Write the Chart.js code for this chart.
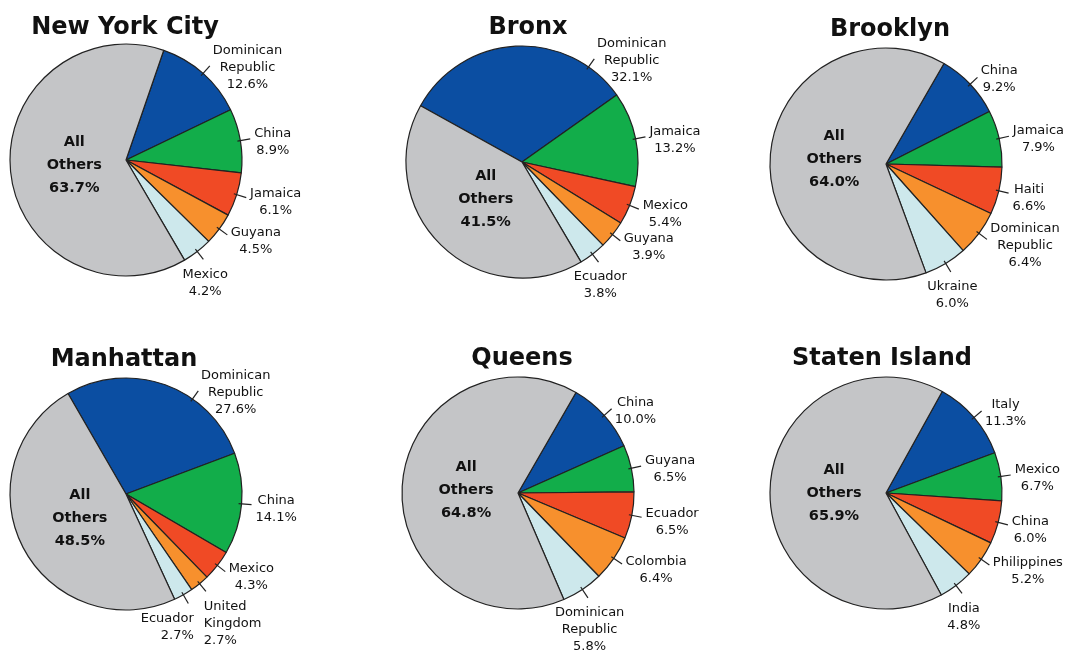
<!DOCTYPE html>
<html>
<head>
<meta charset="utf-8">
<title>Foreign-born population by borough</title>
<script src="https://cdn.jsdelivr.net/npm/chart.js@4.4.1/dist/chart.umd.min.js"></script>
<style>
    body { margin: 0; background: #fff; }
    #board { position: relative; width: 1079px; height: 655px; overflow: hidden; }
    #board canvas { position: absolute; }
</style>
</head>
<body>
<div id="board"></div>
<script>
const boroughs = ['New York City', 'Bronx', 'Brooklyn', 'Manhattan', 'Queens', 'Staten Island'];

const nycCountries = ['Dominican Republic', 'China', 'Jamaica', 'Guyana', 'Mexico', 'All Others'];
const nycShares = [12.6, 8.9, 6.1, 4.5, 4.2, 63.7];

const bronxCountries = ['Dominican Republic', 'Jamaica', 'Mexico', 'Guyana', 'Ecuador', 'All Others'];
const bronxShares = [32.1, 13.2, 5.4, 3.9, 3.8, 41.5];

const brooklynCountries = ['China', 'Jamaica', 'Haiti', 'Dominican Republic', 'Ukraine', 'All Others'];
const brooklynShares = [9.2, 7.9, 6.6, 6.4, 6.0, 64.0];

const manhattanCountries = ['Dominican Republic', 'China', 'Mexico', 'United Kingdom', 'Ecuador', 'All Others'];
const manhattanShares = [27.6, 14.1, 4.3, 2.7, 2.7, 48.5];

const queensCountries = ['China', 'Guyana', 'Ecuador', 'Colombia', 'Dominican Republic', 'All Others'];
const queensShares = [10.0, 6.5, 6.5, 6.4, 5.8, 64.8];

const statenCountries = ['Italy', 'Mexico', 'China', 'Philippines', 'India', 'All Others'];
const statenShares = [11.3, 6.7, 6.0, 5.2, 4.8, 65.9];

const sliceColors = ['#0b4ea2', '#12ad4a', '#f04a25', '#f7902d', '#cde8ec', '#c4c5c7'];

// layout: pie centre on the page, start angle, title centre/baseline
const pieCentres = [[126, 160], [522, 162], [886, 164], [126, 494], [518, 493], [886, 493]];
const startAngles = [19, -61, 30, -30, 30, 29];
const titleSpots = [[125, 34], [528, 34], [890, 36], [124, 366], [522, 365], [882, 365]];

const W = 400, H = 330, R = 116;

const sliceLabels = {
    id: 'sliceLabels',
    afterDatasetsDraw(chart, args, opts) {
        const ctx = chart.ctx;
        const arcs = chart.getDatasetMeta(0).data;
        const ds = chart.data.datasets[0];
        const names = chart.data.labels;
        const n = arcs.length;
        const deg = Math.PI / 180;

        ctx.save();
        ctx.fillStyle = '#111';
        ctx.font = 'bold 24px "DejaVu Sans"';
        ctx.textAlign = 'center';
        ctx.textBaseline = 'alphabetic';
        ctx.fillText(opts.title, opts.titleX, opts.titleY);

        const items = [];
        for (let i = 0; i < n - 1; i++) {
            const a = arcs[i];
            const s = a.startAngle + Math.PI / 2;
            const e = a.endAngle + Math.PI / 2;
            let mid = (s + e) / 2;
            if (mid < 35 * deg) mid = Math.min(35 * deg, e - 8 * deg);
            const dx = Math.sin(mid), dy = -Math.cos(mid);
            items.push({
                i, a, dx, dy,
                x: a.x + dx * (a.outerRadius + 13),
                y: a.y + dy * (a.outerRadius + 13),
                bottom: mid >= 133 * deg,
                align: 'center'
            });
        }
        // two labels hanging under the pie next to each other get pushed apart
        for (let k = 0; k < items.length - 1; k++) {
            const p = items[k], q = items[k + 1];
            if (p.bottom && q.bottom && Math.abs(p.x - q.x) < 40) {
                p.align = 'left';
                q.align = 'right';
            }
        }

        ctx.strokeStyle = '#222';
        ctx.lineWidth = 1.2;
        ctx.font = '13px "DejaVu Sans"';
        ctx.textBaseline = 'middle';
        const LH = 17;
        items.forEach(it => {
            const r = it.a.outerRadius;
            ctx.beginPath();
            ctx.moveTo(it.a.x + it.dx * (r - 3), it.a.y + it.dy * (r - 3));
            ctx.lineTo(it.a.x + it.dx * (r + 10), it.a.y + it.dy * (r + 10));
            ctx.stroke();

            const lines = names[it.i].split(' ').concat(ds.data[it.i].toFixed(1) + '%');
            const w = Math.max(...lines.map(l => ctx.measureText(l).width));
            let x0, top;
            if (it.bottom) {
                top = it.y + 4;
                if (it.align === 'left') x0 = it.x - 4;
                else if (it.align === 'right') x0 = it.x - w + 4;
                else x0 = it.x - w / 2;
            } else {
                x0 = it.x + 1;
                top = it.y + 4 - lines.length * LH / 2;
            }
            lines.forEach((l, j) => {
                const ly = top + LH * j + LH / 2;
                if (it.align === 'left') {
                    ctx.textAlign = 'left';
                    ctx.fillText(l, x0, ly);
                } else if (it.align === 'right') {
                    ctx.textAlign = 'right';
                    ctx.fillText(l, x0 + w, ly);
                } else {
                    ctx.textAlign = 'center';
                    ctx.fillText(l, x0 + w / 2, ly);
                }
            });
        });

        // "All Others" sits inside its own slice
        const g = arcs[n - 1];
        const gm = (g.startAngle + g.endAngle) / 2 + Math.PI / 2;
        const gx = g.x + Math.sin(gm) * 52;
        const gy = g.y - Math.cos(gm) * 52;
        const glines = names[n - 1].split(' ').concat(ds.data[n - 1].toFixed(1) + '%');
        ctx.font = 'bold 14.5px "DejaVu Sans"';
        ctx.textAlign = 'center';
        glines.forEach((l, j) => ctx.fillText(l, gx, gy + (j - (glines.length - 1) / 2) * 23));
        ctx.restore();
    }
};

document.addEventListener('DOMContentLoaded', () => {
    const board = document.getElementById('board');
    const countries = [nycCountries, bronxCountries, brooklynCountries, manhattanCountries, queensCountries, statenCountries];
    const shares = [nycShares, bronxShares, brooklynShares, manhattanShares, queensShares, statenShares];

    boroughs.forEach((name, k) => {
        const [cx, cy] = pieCentres[k];
        const left = cx - W / 2, top = cy - H / 2;
        const canvas = document.createElement('canvas');
        canvas.width = W;
        canvas.height = H;
        canvas.style.left = left + 'px';
        canvas.style.top = top + 'px';
        board.appendChild(canvas);

        new Chart(canvas.getContext('2d'), {
            type: 'pie',
            data: {
                labels: countries[k],
                datasets: [{
                    data: shares[k],
                    backgroundColor: sliceColors,
                    borderColor: '#222',
                    borderWidth: 1.2,
                    radius: R,
                    rotation: startAngles[k]
                }]
            },
            options: {
                responsive: false,
                animation: false,
                events: [],
                rotation: startAngles[k],
                layout: { padding: 0 },
                plugins: {
                    legend: { display: false },
                    tooltip: { enabled: false },
                    sliceLabels: {
                        title: name,
                        titleX: titleSpots[k][0] - left,
                        titleY: titleSpots[k][1] - top
                    }
                }
            },
            plugins: [sliceLabels]
        });
    });
});
</script>
</body>
</html>
